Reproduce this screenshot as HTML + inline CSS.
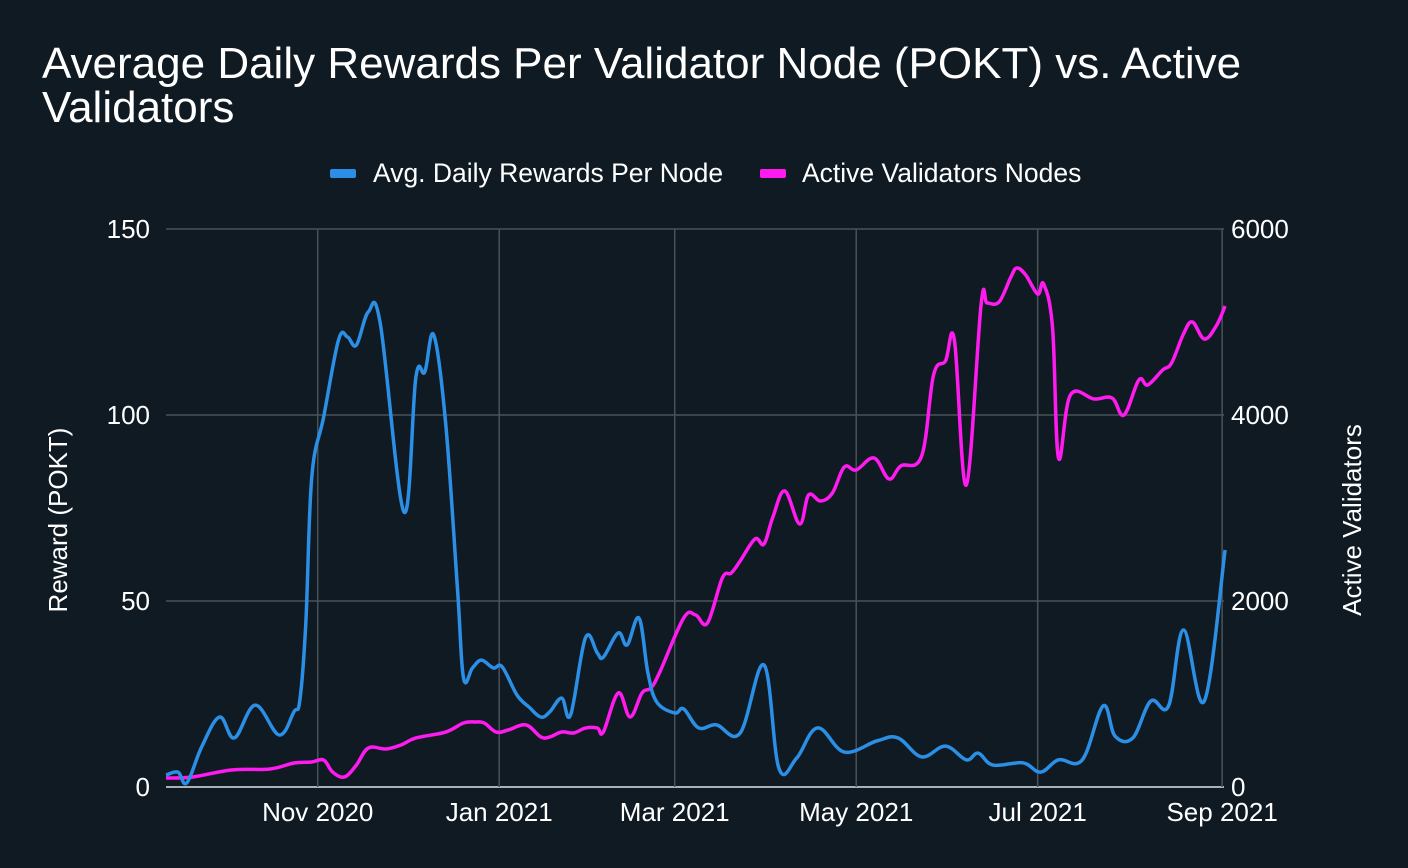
<!DOCTYPE html>
<html><head><meta charset="utf-8"><style>
body{margin:0;background:#0f1a22;}
svg{display:block;font-family:"Liberation Sans",Arial,sans-serif;}
</style></head><body>
<svg id="c" width="1408" height="868">
<rect width="1408" height="868" fill="#0f1a22"/>
<text x="42" y="78" fill="#fff" font-size="44">Average Daily Rewards Per Validator Node (POKT) vs. Active</text>
<text x="42" y="122" fill="#fff" font-size="44">Validators</text>
<g>
<g><rect x="330" y="169" width="26" height="9" rx="2" fill="#2b8fe6"/><text x="373" y="182" fill="#fff" font-size="26.5">Avg. Daily Rewards Per Node</text></g>
<g><rect x="760" y="169" width="26" height="9" rx="2" fill="#ff1af0"/><text x="802" y="182" fill="#fff" font-size="26.5">Active Validators Nodes</text></g>
</g>
<g id="grid"></g>
<g id="axes"></g>
<text transform="translate(67,520) rotate(-90)" text-anchor="middle" fill="#fff" font-size="26">Reward (POKT)</text>
<text transform="translate(1361,520) rotate(-90)" text-anchor="middle" fill="#fff" font-size="26">Active Validators</text>
<g id="series"></g>
</svg>
<script>
const rewardDays=[0,4,7,12,18,23,30,38,43,45,47,49,53,58,61,64,68,72,80,84,87,90,94,98,100,103,106,110,113,118,122,126,129,133,136,141,145,147,152,155,159,162,165,171,174,179,185,193,201,206,212,219,228,239,246,254,262,269,273,278,288,294,300,308,315,319,325,331,337,342,349,356];
const rewardValues=[3.2,4.0,1.1,10.8,18.8,13.2,22.0,14.0,20.2,23.4,44.1,83.3,99.5,120.2,121.0,118.8,127.7,124.7,73.9,110.2,111.6,121.5,97.8,53.0,29.3,32.0,34.1,32.0,32.3,24.7,21.5,18.8,20.2,23.9,19.4,40.1,36.0,34.9,41.4,38.2,45.4,30.6,22.8,19.9,21.0,15.9,16.7,14.5,32.8,5.1,7.8,15.9,9.4,12.4,13.2,8.1,11.0,7.3,9.1,5.9,6.5,4.0,7.3,7.3,21.8,13.7,13.2,23.1,21.8,42.2,23.1,63.7];
const validatorDays=[0,9,22,35,43,49,53,56,60,64,68,74,79,84,94,100,104,107,111,115,121,126,129,133,137,141,145,147,152,156,160,163,166,174,178,182,187,190,193,198,201,204,208,213,216,220,224,228,232,238,243,247,254,258,262,265,269,274,276,280,284,286,289,293,295,298,300,304,312,318,322,327,330,335,338,342,345,349,353,356];
const validatorValues=[97,108,183,194,258,269,290,161,108,237,419,409,452,527,591,688,699,688,591,613,667,538,538,591,581,634,634,591,1011,753,1011,1065,1237,1817,1850,1764,2247,2301,2430,2667,2613,2903,3183,2828,3140,3075,3161,3441,3409,3538,3312,3452,3559,4430,4581,4807,3247,5194,5204,5215,5484,5581,5505,5301,5409,4936,3538,4215,4172,4183,4000,4376,4323,4484,4559,4871,5000,4817,4957,5172];
const xTickLabels=["Nov 2020","Jan 2021","Mar 2021","May 2021","Jul 2021","Sep 2021"];
const xTickDays=[51,112,171,232,293,355];
const leftTicks=[0,50,100,150];
const rightTicks=[0,2000,4000,6000];

const X0=166,PXD=2.975,Y0=787,Y1=229;
const x=d=>X0+d*PXD;
const yL=v=>Y0-(v/150)*(Y0-Y1);
const yR=v=>Y0-(v/6000)*(Y0-Y1);
const NS="http://www.w3.org/2000/svg";
function mk(tag,attrs,parent){const e=document.createElementNS(NS,tag);for(const k in attrs)e.setAttribute(k,attrs[k]);parent.appendChild(e);return e;}
const grid=document.getElementById('grid'),axes=document.getElementById('axes'),series=document.getElementById('series');
leftTicks.forEach((t,i)=>{
  const l=mk('line',{x1:X0,x2:1224,y1:yL(t),y2:yL(t),stroke:i==0?'#aab0b5':'#4a5259','stroke-width':i==0?2:1.5},grid);
  
  
  const tx=mk('text',{x:150,y:yL(t)+9,'text-anchor':'end',fill:'#fff','font-size':26},axes);
  tx.textContent=t;
  
  
});
rightTicks.forEach(t=>{
  const tx=mk('text',{x:1231,y:yR(t)+9,fill:'#fff','font-size':26},axes);
  tx.textContent=t;
  
  
});
xTickDays.forEach((d,i)=>{
  const l=mk('line',{x1:x(d),x2:x(d),y1:Y1,y2:Y0,stroke:'#4a5259','stroke-width':1.5},grid);
  
  
  const tx=mk('text',{x:x(d),y:821,'text-anchor':'middle',fill:'#fff','font-size':26},axes);
  tx.textContent=xTickLabels[i];
  
  
});
function smooth(pts){
  let s=`M${pts[0][0]},${pts[0][1]}`;
  for(let i=0;i<pts.length-1;i++){
    const p0=pts[i-1]||pts[i],p1=pts[i],p2=pts[i+1],p3=pts[i+2]||p2,t=0.18;
    s+=` C${p1[0]+(p2[0]-p0[0])*t},${p1[1]+(p2[1]-p0[1])*t} ${p2[0]-(p3[0]-p1[0])*t},${p2[1]-(p3[1]-p1[1])*t} ${p2[0]},${p2[1]}`;
  }
  return s;
}
const pv=mk('path',{d:smooth(validatorDays.map((d,i)=>[x(d),yR(validatorValues[i])])),fill:'none',stroke:'#ff1af0','stroke-width':3.5,'stroke-linejoin':'round'},series);


const pr=mk('path',{d:smooth(rewardDays.map((d,i)=>[x(d),yL(rewardValues[i])])),fill:'none',stroke:'#2b8fe6','stroke-width':3.5,'stroke-linejoin':'round'},series);


</script>
</body></html>
